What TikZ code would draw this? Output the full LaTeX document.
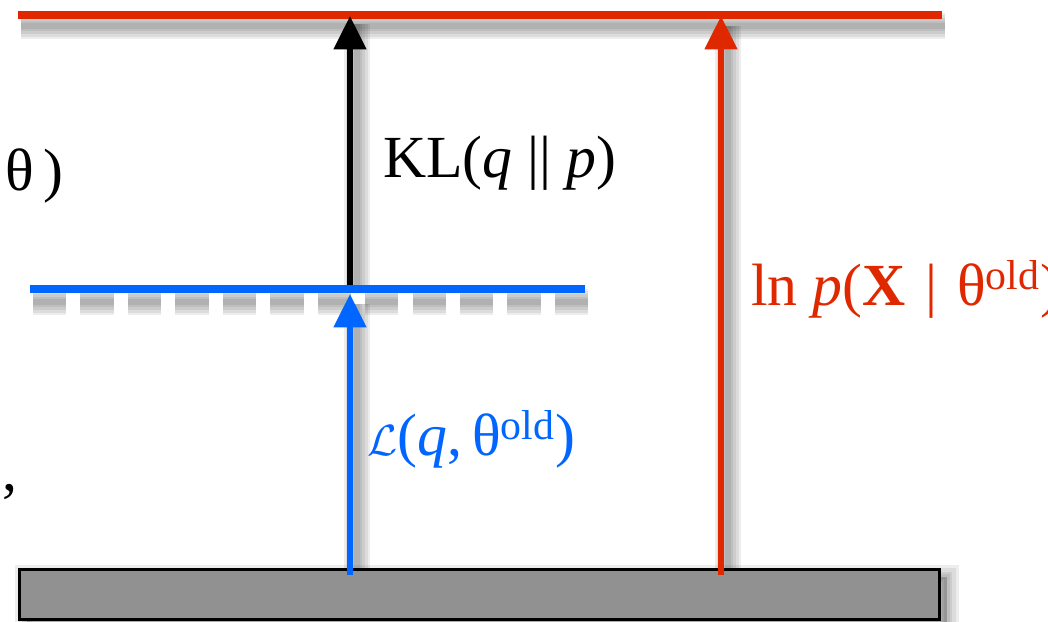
\documentclass[tikz,border=0pt]{standalone}
\usepackage{fontspec}
\setmainfont{Liberation Serif}
\usetikzlibrary{arrows.meta}
\definecolor{emred}{RGB}{224,40,0}
\definecolor{emblue}{RGB}{0,102,255}
\definecolor{basegray}{RGB}{145,145,145}
\newcommand{\softline}[3][]{\foreach \w in {15,12,9,6,3}{\draw[soft, line width=\w pt, #1] #2 -- #3;}}
\tikzset{
  soft/.style={draw=black, opacity=0.07},
  level/.style={line width=5pt},
  up/.style={-{Triangle[length=19pt,width=18pt]}, line width=3.4pt},
  basebox/.style={draw=black, line width=2pt, fill=basegray},
  lbl/.style={inner sep=0pt, font=\fontsize{34}{37}\selectfont},
}

\begin{document}
\begin{tikzpicture}[x=0.02cm, y=-0.02cm]
\useasboundingbox (0,0) rectangle (1048,622);
\clip (0,0) rectangle (1048,622);
\coordinate (redL) at (18,15);
\coordinate (redR) at (942,15);
\coordinate (blueL) at (30,289);
\coordinate (blueR) at (585,289);
\coordinate (lfoot) at (350,575);
\coordinate (lhead) at (350,294);
\coordinate (lbase) at (350,287);
\coordinate (ktop) at (350,16);
\coordinate (rfoot) at (721,575);
\coordinate (rtop) at (721,16);
% shadows
\softline{([shift={(3,11)}]redL)}{([shift={(3,11)}]redR)}
\softline[dash pattern=on 19pt off 8pt]{([shift={(3,13)}]blueL)}{([shift={(3,13)}]blueR)}
\softline{([shift={(7,8)}]ktop)}{([shift={(7,0)}]lbase)}
\softline{([shift={(7,10)}]lhead)}{([shift={(7,0)}]lfoot)}
\softline{([shift={(7,10)}]rtop)}{([shift={(7,0)}]rfoot)}
\foreach \w in {14,10,6,3}{\draw[soft, line width=\w pt, fill=black, fill opacity=0.06] (27,577) rectangle (947,628);}
\node[basebox, inner sep=0pt, minimum width=18.4cm, minimum height=1cm] (base) at (479.5,594.5) {};
% levels and arrows
\draw[level, emred] (redL) -- (redR);
\draw[up, black] (lbase) -- (ktop);
\draw[up, emred] (rfoot) -- (rtop);
\draw[level, emblue] (blueL) -- (blueR);
\draw[up, emblue] (lfoot) -- (lhead);
\node[lbl, anchor=base west] (kl) at (383,177) {KL(\textit{q} \textbar\textbar\ \textit{p})};
\node[lbl, anchor=base west, text=emred] (lnp) at (751,305) {ln \textit{p}(\textbf{X}\hspace{2.8pt} \textbar\ \hspace{2.8pt}θ\textsuperscript{old})};
\node[lbl, anchor=base west, text=emblue] (elbo) at (367,455) {$\mathcal{L}$(\textit{q},\,θ\textsuperscript{old})};
\node[lbl, anchor=base east] (cutth) at (64,190) {θ\,)};
\node[lbl, anchor=base west] (cutcomma) at (2,490) {,};
\end{tikzpicture}
\end{document}
